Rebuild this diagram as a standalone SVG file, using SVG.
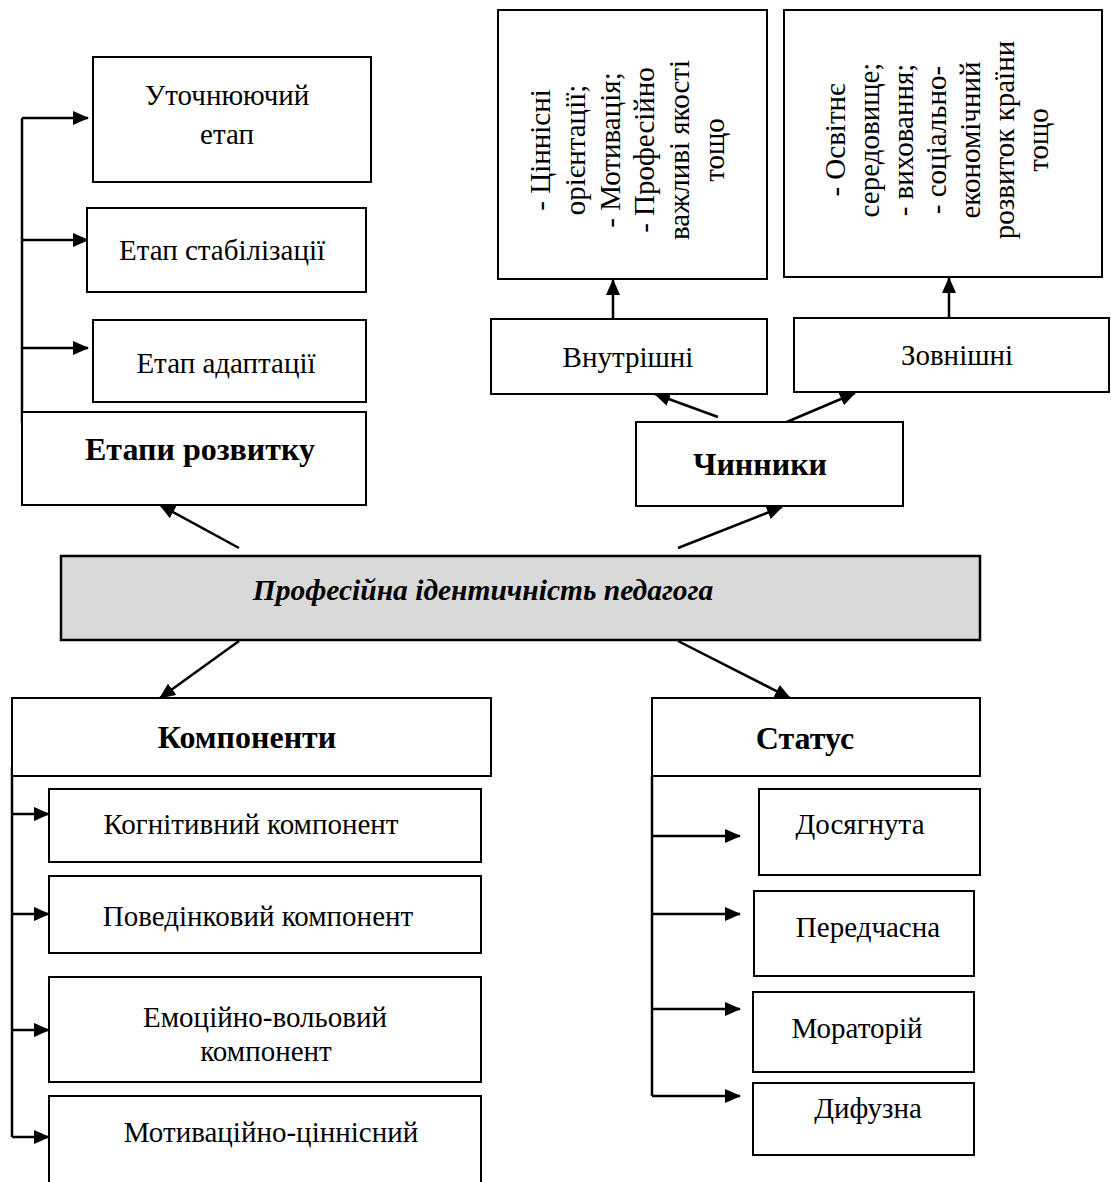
<svg xmlns="http://www.w3.org/2000/svg" width="1111" height="1182" viewBox="0 0 1111 1182">
<style>
.box{fill:#fff;stroke:#000;stroke-width:2}
.grey{fill:#d9d9d9;stroke:#000;stroke-width:2.5}
.t{font-family:"Liberation Serif","Times New Roman",serif;font-size:29px;fill:#000;text-anchor:middle}
.b{font-weight:bold;font-size:32px}
.bi{font-weight:bold;font-style:italic;font-size:29.5px}
.ln{stroke:#000;stroke-width:2.5;fill:none}
.ar{marker-end:url(#ah)}
</style>
<defs>
<marker id="ah" markerUnits="userSpaceOnUse" markerWidth="16" markerHeight="14" refX="15" refY="7" orient="auto">
<path d="M0,0 L16,7 L0,14 z" fill="#000"/>
</marker>
</defs>
<rect width="1111" height="1182" fill="#fff"/>
<g id="connectors">
<path class="ln" d="M22,118 V423"/>
<path class="ln ar" d="M22,118 H88"/>
<path class="ln ar" d="M22,240 H88"/>
<path class="ln ar" d="M22,348 H88"/>
<path class="ln ar" d="M239,548 L160,505"/>
<path class="ln ar" d="M678,548 L782,507"/>
<path class="ln ar" d="M718,417 L655,394"/>
<path class="ln ar" d="M782,424 L855,393"/>
<path class="ln ar" d="M613,319 V280"/>
<path class="ln ar" d="M949,318 V278"/>
<path class="ln ar" d="M239,641 L160,698"/>
<path class="ln ar" d="M678,641 L790,698"/>
<path class="ln" d="M12,767 V1137"/>
<path class="ln ar" d="M12,814 H49"/>
<path class="ln ar" d="M12,914 H49"/>
<path class="ln ar" d="M12,1030 H49"/>
<path class="ln ar" d="M12,1137 H49"/>
<path class="ln" d="M652,776 V1096"/>
<path class="ln ar" d="M652,836 H740"/>
<path class="ln ar" d="M652,914 H740"/>
<path class="ln ar" d="M652,1009 H740"/>
<path class="ln ar" d="M652,1096 H740"/>
</g>
<g id="n-utochn"><rect class="box" x="93" y="57" width="278" height="125"/><text class="t" x="227" y="105">Уточнюючий</text><text class="t" x="227" y="144">етап</text></g>
<g id="n-stab"><rect class="box" x="87" y="208" width="279" height="84"/><text class="t" x="222" y="260">Етап стабілізації</text></g>
<g id="n-adapt"><rect class="box" x="93" y="320" width="273" height="82"/><text class="t" x="226" y="373">Етап адаптації</text></g>
<g id="n-etapy"><rect class="box" x="22" y="412" width="344" height="93"/><text class="t b" x="200" y="460">Етапи розвитку</text></g>
<g id="n-internal-list"><rect class="box" x="498" y="10" width="269" height="269"/>
<text class="t" transform="rotate(-90)"><tspan x="-150" y="550">- Ціннісні</tspan><tspan x="-150" y="585">орієнтації;</tspan><tspan x="-150" y="620">- Мотивація;</tspan><tspan x="-150" y="654">- Професійно</tspan><tspan x="-150" y="689">важливі якості</tspan><tspan x="-150" y="724">тощо</tspan></text></g>
<g id="n-external-list"><rect class="box" x="784" y="10" width="318" height="267"/>
<text class="t" transform="rotate(-90)"><tspan x="-140" y="845">- Освітнє</tspan><tspan x="-140" y="879">середовище;</tspan><tspan x="-140" y="913">- виховання;</tspan><tspan x="-140" y="946">- соціально-</tspan><tspan x="-140" y="980">економічний</tspan><tspan x="-140" y="1014">розвиток країни</tspan><tspan x="-140" y="1048">тощо</tspan></text></g>
<g id="n-vnutr"><rect class="box" x="491" y="319" width="276" height="75"/><text class="t" x="628" y="367">Внутрішні</text></g>
<g id="n-zovn"><rect class="box" x="794" y="318" width="315" height="74"/><text class="t" x="957" y="365">Зовнішні</text></g>
<g id="n-chynnyky"><rect class="box" x="636" y="422" width="267" height="84"/><text class="t b" x="760" y="475">Чинники</text></g>
<g id="n-center"><rect class="grey" x="61" y="556" width="919" height="84"/><text class="t bi" x="483" y="600">Професійна ідентичність педагога</text></g>
<g id="n-komp"><rect class="box" x="12" y="698" width="479" height="78"/><text class="t b" x="247" y="748">Компоненти</text></g>
<g id="n-kogn"><rect class="box" x="49" y="789" width="432" height="73"/><text class="t" x="251" y="834">Когнітивний компонент</text></g>
<g id="n-poved"><rect class="box" x="49" y="876" width="432" height="77"/><text class="t" x="258" y="926">Поведінковий компонент</text></g>
<g id="n-emoc"><rect class="box" x="49" y="977" width="432" height="105"/><text class="t" x="265" y="1027">Емоційно-вольовий</text><text class="t" x="266" y="1061">компонент</text></g>
<g id="n-motiv"><rect class="box" x="49" y="1096" width="432" height="100"/><text class="t" x="271" y="1142">Мотиваційно-ціннісний</text></g>
<g id="n-status"><rect class="box" x="652" y="698" width="328" height="78"/><text class="t b" x="805" y="749">Статус</text></g>
<g id="n-dosyag"><rect class="box" x="759" y="789" width="221" height="86"/><text class="t" x="860" y="834">Досягнута</text></g>
<g id="n-peredch"><rect class="box" x="754" y="891" width="220" height="85"/><text class="t" x="868" y="937">Передчасна</text></g>
<g id="n-morat"><rect class="box" x="753" y="992" width="221" height="80"/><text class="t" x="857" y="1038">Мораторій</text></g>
<g id="n-dyfuz"><rect class="box" x="753" y="1083" width="221" height="72"/><text class="t" x="868" y="1118">Дифузна</text></g>
</svg>
